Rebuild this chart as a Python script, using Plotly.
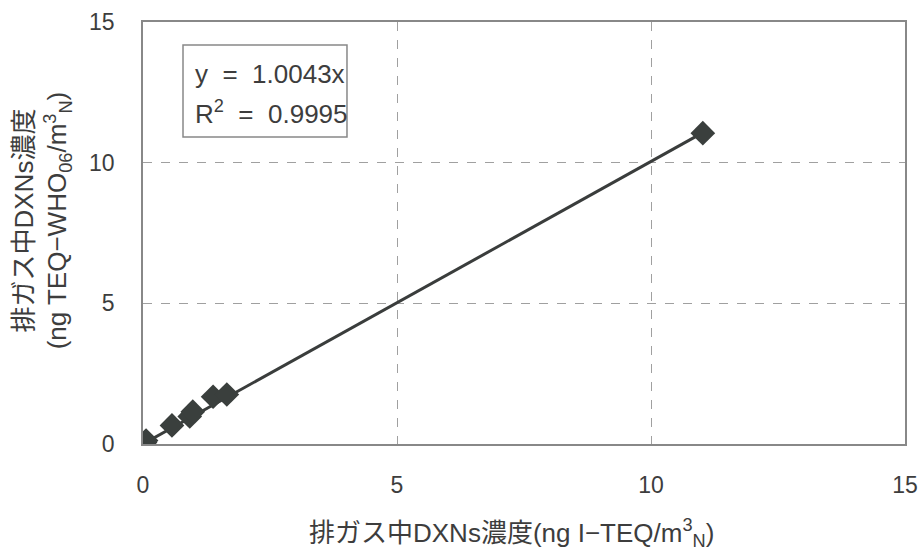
import plotly.graph_objects as go

x_vals = [0.04, 0.06, 0.57, 0.92, 0.98, 1.38, 1.65, 11.02]
y_vals = [0.05, 0.12, 0.66, 0.98, 1.15, 1.68, 1.76, 11.05]
slope = 1.0043
r2 = 0.9995
ticks = [0, 5, 10, 15]
x_title = "排ガス中DXNs濃度(ng I−TEQ/m<sup>3</sup><sub>N</sub>)"
y_title = "排ガス中DXNs濃度<br>(ng TEQ−WHO<sub>06</sub>/m<sup>3</sup><sub>N</sub>)"

line_x = [0, max(x_vals)]
line_y = [slope * v for v in line_x]

TXT = "#3d3d3d"
font = "Liberation Sans, Arial, Noto Sans CJK JP, sans-serif"

fig = go.Figure()
fig.add_trace(go.Scatter(x=line_x, y=line_y, mode="lines",
                         line=dict(color="#3a3d3c", width=3), showlegend=False))
fig.add_trace(go.Scatter(x=x_vals, y=y_vals, mode="markers",
                         marker=dict(symbol="diamond", size=19, color="#3a3f3d"),
                         showlegend=False))

axis_common = dict(range=[0, 15], tickvals=ticks, showgrid=True,
                   gridcolor="#a0a0a0", griddash="dash", gridwidth=1,
                   showline=True, linecolor="#888", linewidth=1.5, mirror=True,
                   zeroline=False, ticks="outside", tickcolor="rgba(0,0,0,0)",
                   automargin=False, tickfont=dict(size=23, color=TXT, family=font))

fig.update_layout(
    width=924, height=554,
    margin=dict(l=143, r=19, t=22, b=110),
    paper_bgcolor="white", plot_bgcolor="white",
    font=dict(family=font, size=20, color=TXT),
    xaxis=dict(**axis_common, ticklen=20),
    yaxis=dict(**axis_common, ticklen=22),
)

# axis titles
fig.add_annotation(xref="paper", yref="paper", x=0.484, y=0, yshift=-89,
                   xanchor="center", yanchor="middle", showarrow=False,
                   text=x_title, font=dict(size=26, color=TXT, family=font))
fig.add_annotation(xref="paper", yref="paper", x=0, xshift=-101, y=0.53,
                   xanchor="center", yanchor="middle", showarrow=False,
                   textangle=-90, text=y_title,
                   font=dict(size=26, color=TXT, family=font))

# regression label box
fig.add_shape(type="rect", xref="paper", yref="paper",
              x0=0.0525, x1=0.2677, y0=0.7275, y1=0.9455,
              line=dict(color="#888", width=1.5), fillcolor="white", layer="above")
fig.add_annotation(xref="paper", yref="paper", x=0.0656, y=0.8768,
                   xanchor="left", yanchor="middle", showarrow=False,
                   text=f"y\u00a0\u00a0=\u00a0\u00a0{slope}x",
                   font=dict(size=26, color=TXT, family=font))
fig.add_annotation(xref="paper", yref="paper", x=0.0656, y=0.7844,
                   xanchor="left", yanchor="middle", showarrow=False,
                   text=f"R<sup>2</sup>\u00a0\u00a0=\u00a0\u00a0{r2}",
                   font=dict(size=26, color=TXT, family=font))

fig.write_html("out.html", config={"displayModeBar": False},
               post_script="document.body.style.margin='0';document.body.style.overflow='hidden';")
